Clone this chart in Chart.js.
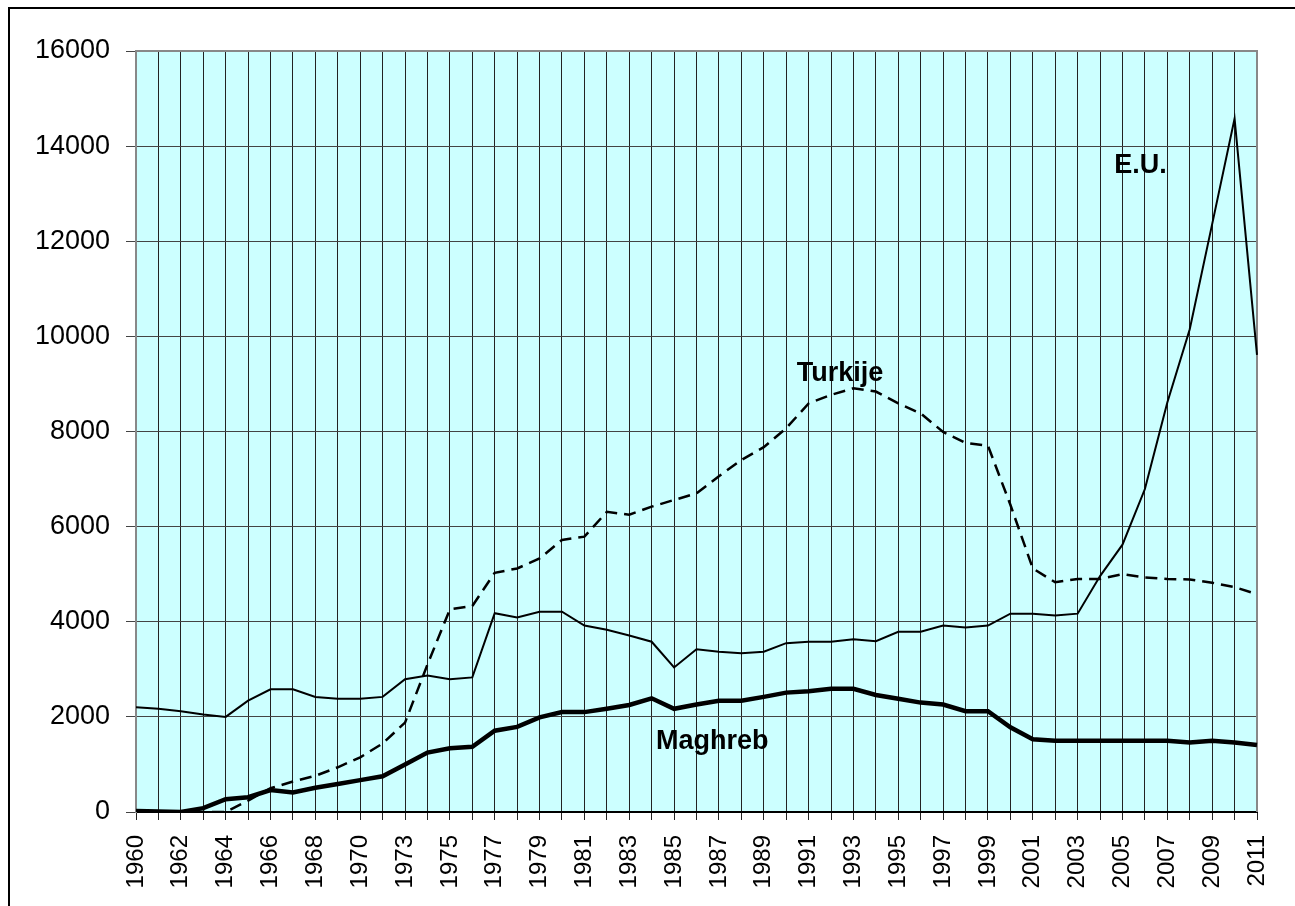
<!DOCTYPE html>
<html>
<head>
<meta charset="utf-8">
<script src="https://cdn.jsdelivr.net/npm/chart.js@4.4.1/dist/chart.umd.min.js"></script>
<style>
  body { margin: 0; background: #fff; }
  #wrap { position: relative; width: 1295px; height: 906px; overflow: hidden; }
  #frame { position: absolute; left: 8px; top: 7px; width: 1400px; height: 1000px;
           border-left: 2px solid #000; border-top: 2px solid #000; pointer-events: none; }
</style>
</head>
<body>
<div id="wrap">
  <canvas id="grafiek" width="1295" height="906"></canvas>
  <div id="frame"></div>
</div>
<script>
// jaren (1971 ontbreekt in de reeks)
const jaren = [1960, 1961, 1962, 1963, 1964, 1965, 1966, 1967, 1968, 1969, 1970, 1972,
  1973, 1974, 1975, 1976, 1977, 1978, 1979, 1980, 1981, 1982, 1983, 1984, 1985, 1986,
  1987, 1988, 1989, 1990, 1991, 1992, 1993, 1994, 1995, 1996, 1997, 1998, 1999, 2000,
  2001, 2002, 2003, 2004, 2005, 2006, 2007, 2008, 2009, 2010, 2011];

const eu = [2200, 2170, 2120, 2050, 2000, 2340, 2580, 2580, 2420, 2380, 2380, 2420,
  2790, 2870, 2790, 2830, 4180, 4090, 4210, 4210, 3920, 3830, 3710, 3580, 3040, 3420,
  3370, 3340, 3370, 3550, 3580, 3580, 3630, 3590, 3790, 3790, 3920, 3880, 3920, 4170,
  4170, 4130, 4170, 4960, 5620, 6790, 8610, 10150, 12360, 14580, 9610];

const turkije = [0, 0, 0, 0, 0, 240, 500, 640, 760, 940, 1150, 1440,
  1880, 3100, 4260, 4330, 5030, 5120, 5330, 5720, 5790, 6310, 6250, 6420, 6560, 6700,
  7060, 7400, 7670, 8070, 8590, 8770, 8910, 8840, 8590, 8380, 7990, 7760, 7700, 6460,
  5120, 4830, 4900, 4900, 5000, 4930, 4900, 4890, 4820, 4730, 4580];

const maghreb = [20, 10, 0, 80, 270, 310, 460, 410, 510, 590, 670, 750,
  1000, 1250, 1340, 1370, 1710, 1790, 1990, 2100, 2100, 2170, 2250, 2390, 2170, 2260,
  2340, 2340, 2420, 2510, 2540, 2590, 2590, 2460, 2380, 2300, 2260, 2120, 2120, 1780,
  1530, 1500, 1500, 1500, 1500, 1500, 1500, 1460, 1500, 1460, 1410];

// tekstlabels in de grafiek: positie in categorie-index en waarde
const labelTekst = ['E.U.', 'Turkije', 'Maghreb'];
const labelIndex = [44.8, 31.4, 25.7];
const labelWaarde = [13440, 9060, 1330];

const lettertype = 'Arial, "Liberation Sans", sans-serif';

const plotAchtergrond = {
  id: 'plotAchtergrond',
  beforeDraw(chart) {
    const { ctx, chartArea: a } = chart;
    ctx.save();
    ctx.fillStyle = '#CCFFFF';
    ctx.fillRect(a.left, a.top, a.right - a.left, a.bottom - a.top);
    ctx.restore();
  },
  beforeDatasetsDraw(chart) {
    const { ctx, chartArea: a } = chart;
    ctx.save();
    ctx.strokeStyle = '#888';
    ctx.lineWidth = 2;
    ctx.beginPath();
    ctx.moveTo(a.left, a.top);
    ctx.lineTo(a.right, a.top);
    ctx.lineTo(a.right, a.bottom);
    ctx.stroke();
    ctx.restore();
  },
  afterDatasetsDraw(chart) {
    const { ctx } = chart;
    const x = chart.scales.x, y = chart.scales.y;
    ctx.save();
    ctx.fillStyle = '#000';
    ctx.font = 'bold 27px ' + lettertype;
    ctx.textAlign = 'center';
    ctx.textBaseline = 'alphabetic';
    labelTekst.forEach((t, i) => {
      ctx.fillText(t, x.getPixelForValue(labelIndex[i]), y.getPixelForValue(labelWaarde[i]));
    });
    ctx.restore();
  }
};

const ctx = document.getElementById('grafiek').getContext('2d');

new Chart(ctx, {
  type: 'line',
  data: {
    labels: jaren.map(String),
    datasets: [
      {
        label: 'E.U.',
        data: eu,
        borderColor: '#000',
        borderWidth: 2,
        pointRadius: 0,
        tension: 0
      },
      {
        label: 'Turkije',
        data: turkije,
        borderColor: '#000',
        borderWidth: 2.5,
        borderDash: [12, 7],
        pointRadius: 0,
        tension: 0
      },
      {
        label: 'Maghreb',
        data: maghreb,
        borderColor: '#000',
        borderWidth: 4.5,
        pointRadius: 0,
        tension: 0
      }
    ]
  },
  options: {
    responsive: false,
    animation: false,
    layout: { padding: { top: 51, right: 38, left: 0, bottom: 0 } },
    plugins: {
      legend: { display: false },
      tooltip: { enabled: false }
    },
    scales: {
      x: {
        grid: { color: '#222', lineWidth: 1, tickLength: 8 },
        border: { color: '#000', width: 2 },
        ticks: {
          autoSkip: false,
          minRotation: 90,
          maxRotation: 90,
          padding: 15,
          color: '#000',
          font: { family: lettertype, size: 24 },
          callback: function (v, i) { return i % 2 === 0 ? this.getLabelForValue(v) : ''; }
        },
        afterFit(s) { s.height = 94; s.paddingRight = 0; }
      },
      y: {
        min: 0,
        max: 16000,
        grid: { color: '#444', lineWidth: 1, tickLength: 10 },
        border: { color: '#888', width: 2 },
        ticks: {
          stepSize: 2000,
          padding: 16,
          color: '#000',
          font: { family: lettertype, size: 27 },
          callback: v => String(v)
        },
        afterFit(s) { s.width = 136; }
      }
    }
  },
  plugins: [plotAchtergrond]
});
</script>
</body>
</html>
